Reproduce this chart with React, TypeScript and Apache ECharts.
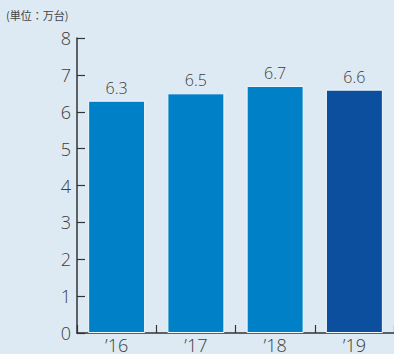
import React, { useEffect, useRef } from "react";
import * as echarts from "echarts";

const categories = ["’16", "’17", "’18", "’19"];
const values = [6.3, 6.5, 6.7, 6.6];
const barColors = ["#0080c6", "#0080c6", "#0080c6", "#0c4f9f"];
const unitLabel = "(単位：万台)";
const yTicks = [0, 1, 2, 3, 4, 5, 6, 7, 8];

export default function App() {
  const ref = useRef<HTMLDivElement>(null);
  useEffect(() => {
    const chart = echarts.init(ref.current!, null, { renderer: "svg" });
    const font = "'Open Sans', sans-serif";
    const txt = "#3c3c3c";
    chart.setOption({
      animation: false,
      backgroundColor: "#deeaf3",
      textStyle: { fontFamily: font },
      graphic: [
        {
          type: "text",
          left: 6,
          top: 9,
          style: { text: unitLabel, fontSize: 11, fill: "#444", fontFamily: "'Noto Sans CJK JP', sans-serif" },
        },
      ],
      grid: { left: 77, right: -3, top: 38, bottom: 18, containLabel: false },
      xAxis: {
        type: "category",
        data: categories,
        axisLine: { lineStyle: { color: "#333", width: 1.5 } },
        axisTick: { show: true, inside: true, length: 8, lineStyle: { color: "#333", width: 1.2 } },
        axisLabel: { color: txt, fontSize: 18, fontWeight: 300, margin: 3, fontFamily: font },
      },
      yAxis: {
        type: "value",
        min: yTicks[0],
        max: yTicks[yTicks.length - 1],
        interval: 1,
        splitLine: { show: false },
        axisLine: { show: true, lineStyle: { color: "#333", width: 1.5 } },
        axisTick: { show: true, inside: true, length: 8, lineStyle: { color: "#333", width: 1.2 } },
        axisLabel: { color: txt, fontSize: 18, fontWeight: 300, margin: 6, fontFamily: font },
      },
      series: [
        {
          type: "bar",
          barWidth: 57,
          data: values.map((v, i) => ({
            value: v,
            itemStyle: { color: barColors[i], borderColor: "#f4f9fc", borderWidth: 1 },
          })),
          label: {
            show: true,
            position: "top",
            distance: 5,
            color: txt,
            fontSize: 16,
            fontWeight: 300,
            fontFamily: font,
            formatter: (p: any) => p.value.toFixed(1),
          },
        },
      ],
    });
    return () => chart.dispose();
  }, []);
  return <div ref={ref} style={{ width: 394, height: 354, position: "fixed", left: 0, top: 0 }} />;
}
